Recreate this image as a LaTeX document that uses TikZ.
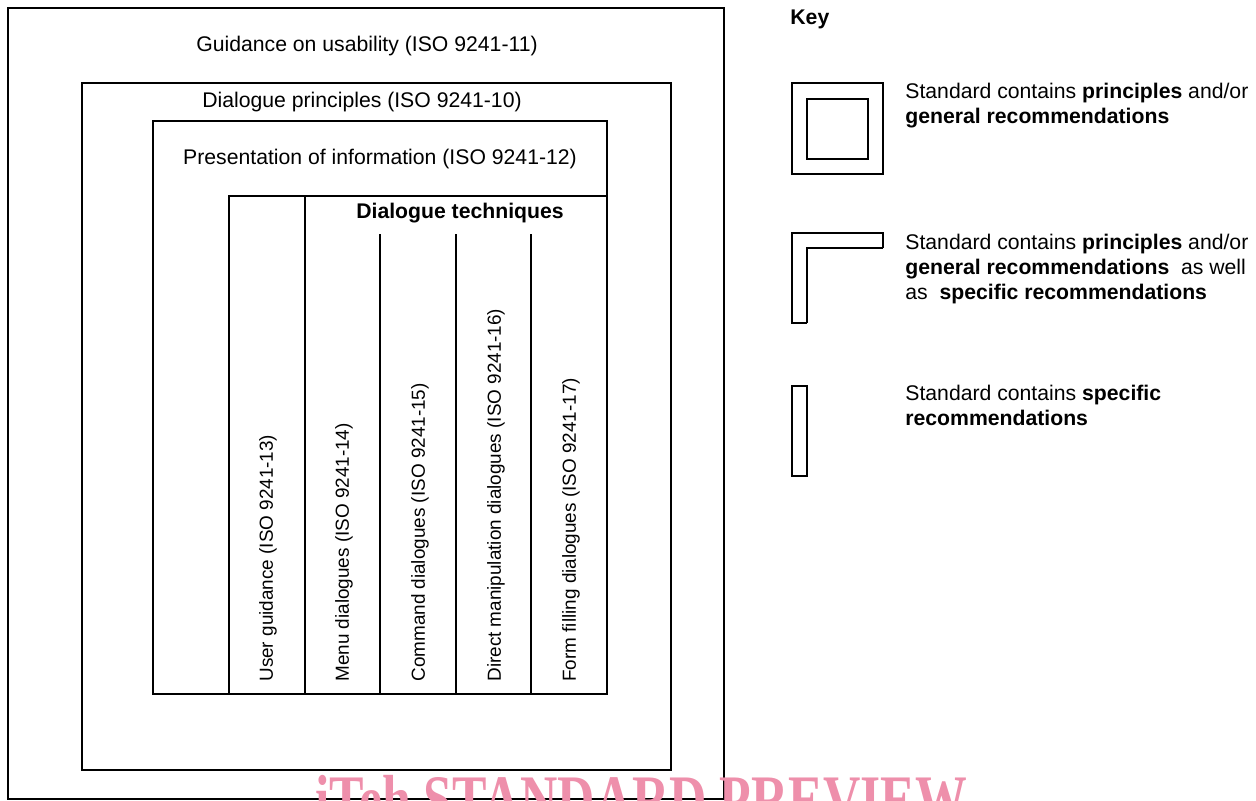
\documentclass[tikz,border=0pt]{standalone}
\usepackage{fontspec}
\setmainfont{Liberation Sans}
\newfontfamily\wmfont{Liberation Serif}
\definecolor{wmpink}{RGB}{238,143,171}
\tikzset{
  frame/.style={line width=1.1pt},
  rule/.style={line width=0.6pt},
  label/.style={font=\fontsize{10.6}{12.5}\selectfont, inner sep=0pt},
  col/.style={label, font=\fontsize{9.45}{11}\selectfont, rotate=90, anchor=west},
  keyline/.style={label, anchor=base west},
}
\begin{document}
\begin{tikzpicture}[x=0.5pt, y=-0.5pt]
	\useasboundingbox (0,0) rectangle (1256,800);
	\clip (0,0) rectangle (1256,800);
	% nested standards
	\draw[frame] (8,8) rectangle (724,799);
	\draw[frame] (82,83) rectangle (671,770);
	\draw[frame] (153,121) rectangle (607,694);
	\node[label, anchor=base] (usab) at (367,51) {Guidance on usability (ISO 9241-11)};
	\node[label, anchor=base] (princ) at (362,107) {Dialogue principles (ISO 9241-10)};
	\node[label, anchor=base] (pres) at (380,164) {Presentation of information (ISO 9241-12)};
	% dialogue techniques
	\draw[rule] (229,694) -- (229,196) -- (607,196);
	\draw[rule] (305,196) -- (305,694);
	\foreach \x in {380,456,531}
	    \draw[rule] (\x,234) -- (\x,694);
	\node[label, font=\fontsize{10.6}{12.5}\selectfont\bfseries, anchor=base] (tech) at (460,218) {Dialogue techniques};
	\node[col] (guid) at (268,682) {User guidance (ISO 9241-13)};
	\node[col] (menu) at (344,682) {Menu dialogues (ISO 9241-14)};
	\node[col] (cmd) at (420,682) {Command dialogues (ISO 9241-15)};
	\node[col] (dirm) at (496,682) {Direct manipulation dialogues (ISO 9241-16)};
	\node[col] (form) at (571,682) {Form filling dialogues (ISO 9241-17)};
	% key
	\node[keyline, font=\fontsize{10.6}{12.5}\selectfont\bfseries] (key) at (790,24) {Key};
	\draw[frame] (792,83) rectangle (883,174);
	\draw[frame] (807,99) rectangle (868,159);
	\node[keyline] (ka1) at (905,98) {Standard contains \textbf{principles} and/or};
	\node[keyline] (ka2) at (905,123) {\textbf{general recommendations}};
	\draw[frame] (807,323) -- (792,323) -- (792,233) -- (883,233) -- (883,248);
	\draw[rule] (883,248) -- (807,248) -- (807,323);
	\node[keyline] (kb1) at (905,249) {Standard contains \textbf{principles} and/or};
	\node[keyline] (kb2) at (905,274) {\textbf{general recommendations}\ \ as well};
	\node[keyline] (kb3) at (905,299) {as\ \ \textbf{specific recommendations}};
	\draw[rule] (792,386) rectangle (807,476);
	\node[keyline] (kc1) at (905,400) {Standard contains \textbf{specific}};
	\node[keyline] (kc2) at (905,425) {\textbf{recommendations}};
	% watermark
	\node[font=\wmfont\bfseries\fontsize{34}{34}\selectfont, text=wmpink, xscale=0.76, anchor=base, inner sep=0pt] (wm) at (641,822) {iTeh STANDARD PREVIEW};
\end{tikzpicture}
\end{document}
